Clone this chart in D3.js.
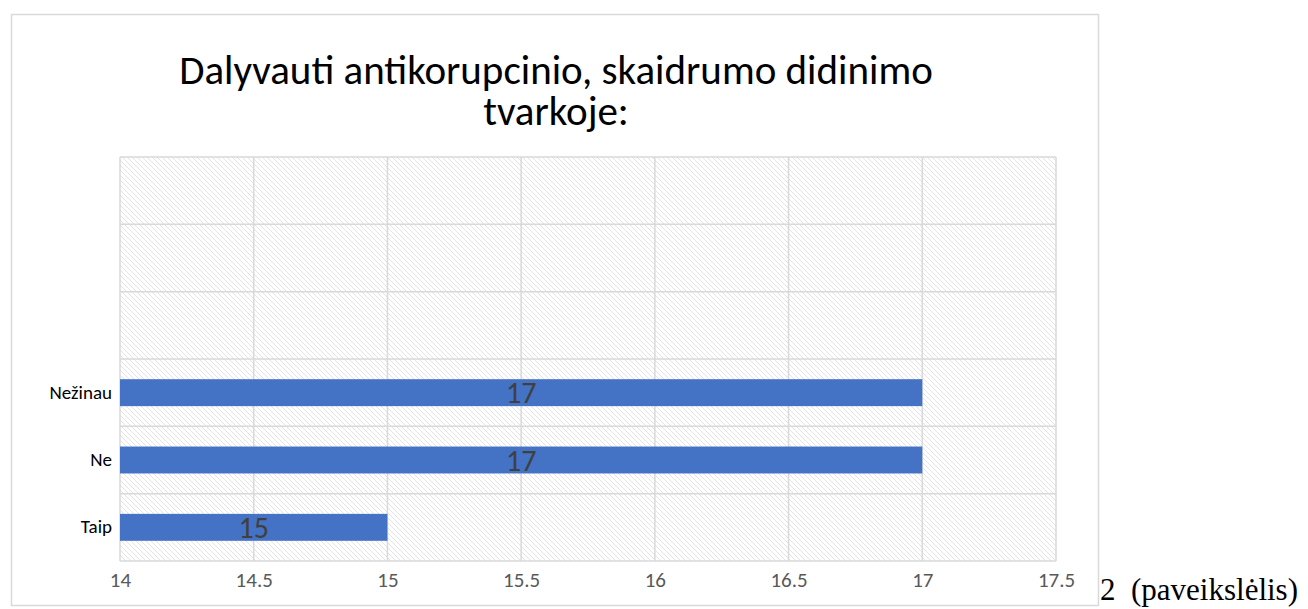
<!DOCTYPE html>
<html>
<head>
<meta charset="utf-8">
<script src="https://cdn.jsdelivr.net/npm/d3@7"></script>
<style>
  body { margin: 0; background: #fff; }
</style>
</head>
<body>
<script>
var W = 1308, H = 609;

// categories from bottom to top; the top three rows are empty in the source
var categories = ["Taip", "Ne", "Nežinau", "", "", ""];
var values = [15, 17, 17, null, null, null];
var xTicks = [14, 14.5, 15, 15.5, 16, 16.5, 17, 17.5];
var titleLines = ["Dalyvauti antikorupcinio, skaidrumo didinimo", "tvarkoje:"];
var caption = "2  (paveikslėlis)";

var rows = categories.map(function(c, i) { return {key: i, name: c, value: values[i]}; });

var m = {left: 120, right: 1056, top: 157, bottom: 561};
var font = "Carlito, Calibri, Lato, sans-serif";

var svg = d3.select("body").append("svg")
  .attr("width", W)
  .attr("height", H);

// hatch pattern of the plot area
var defs = svg.append("defs");
defs.append("pattern")
  .attr("id", "hatch")
  .attr("patternUnits", "userSpaceOnUse")
  .attr("width", 5)
  .attr("height", 5)
  .call(function(p) {
    p.append("rect").attr("width", 5).attr("height", 5).attr("fill", "#fff");
    p.append("path")
      .attr("d", "M-1,-1 L6,6 M-1,4 L1,6 M4,-1 L6,1")
      .attr("stroke", "#dcdcdc")
      .attr("stroke-width", 0.8);
  });

// outer chart border
svg.append("rect")
  .attr("x", 11.5).attr("y", 14.5)
  .attr("width", 1087).attr("height", 591)
  .attr("fill", "#fff")
  .attr("stroke", "#d9d9d9")
  .attr("stroke-width", 1.5);

var x = d3.scaleLinear().domain([14, 17.5]).range([m.left, m.right]);
var y = d3.scaleBand()
  .domain(rows.map(function(d) { return d.key; }).reverse())
  .range([m.top, m.bottom])
  .paddingInner(0.6)
  .paddingOuter(0.3);

// band edges for gridlines
var bandLines = d3.range(categories.length + 1).map(function(i) { return m.top + i * (m.bottom - m.top) / categories.length; });

svg.append("rect")
  .attr("x", m.left).attr("y", m.top)
  .attr("width", m.right - m.left).attr("height", m.bottom - m.top)
  .attr("fill", "url(#hatch)");

var grid = svg.append("g").attr("stroke", "#d9d9d9").attr("stroke-width", 1.5);
grid.selectAll("line.v").data(xTicks).enter().append("line")
  .attr("class", "v")
  .attr("x1", function(d) { return x(d); })
  .attr("x2", function(d) { return x(d); })
  .attr("y1", m.top).attr("y2", m.bottom);
grid.selectAll("line.h").data(bandLines).enter().append("line")
  .attr("class", "h")
  .attr("x1", m.left).attr("x2", m.right)
  .attr("y1", function(d) { return d; })
  .attr("y2", function(d) { return d; });

// bars
svg.selectAll("rect.bar").data(rows.filter(function(d) { return d.value != null; }))
  .enter().append("rect")
  .attr("class", "bar")
  .attr("x", x(14))
  .attr("y", function(d) { return y(d.key); })
  .attr("width", function(d) { return x(d.value) - x(14); })
  .attr("height", y.bandwidth())
  .attr("fill", "#4472c4");

// data labels
svg.selectAll("text.lbl").data(rows.filter(function(d) { return d.value != null; }))
  .enter().append("text")
  .attr("class", "lbl")
  .attr("x", function(d) { return (x(14) + x(d.value)) / 2; })
  .attr("y", function(d) { return y(d.key) + y.bandwidth() / 2; })
  .attr("dy", "0.36em")
  .attr("text-anchor", "middle")
  .attr("font-family", font)
  .attr("font-size", "30px")
  .attr("fill", "#404040")
  .text(function(d) { return d.value; });

// y axis labels
var yAxis = d3.axisLeft(y)
  .tickSize(0)
  .tickPadding(8)
  .tickFormat(function(k) { return categories[k]; });
svg.append("g")
  .attr("transform", "translate(" + m.left + ",0)")
  .call(yAxis)
  .call(function(g) {
    g.select(".domain").remove();
    g.selectAll("text")
      .attr("font-family", font)
      .attr("font-size", "19px")
      .attr("fill", "#000");
  });

// x axis labels
var xAxis = d3.axisBottom(x).tickValues(xTicks).tickSize(0).tickPadding(11)
  .tickFormat(function(d) { return d; });
svg.append("g")
  .attr("transform", "translate(0," + m.bottom + ")")
  .call(xAxis)
  .call(function(g) {
    g.select(".domain").remove();
    g.selectAll("text")
      .attr("font-family", font)
      .attr("font-size", "21px")
      .attr("fill", "#595959");
  });

// title
svg.selectAll("text.title").data(titleLines)
  .enter().append("text")
  .attr("class", "title")
  .attr("x", 556)
  .attr("y", function(d, i) { return 84 + i * 41; })
  .attr("text-anchor", "middle")
  .attr("font-family", font)
  .attr("font-size", "41px")
  .attr("fill", "#000")
  .text(function(d) { return d; });

// caption to the right of the chart
svg.append("text")
  .attr("x", 1100)
  .attr("y", 600)
  .attr("font-family", "'Liberation Serif', serif")
  .attr("font-size", "31px")
  .attr("fill", "#000")
  .style("white-space", "pre")
  .text(caption);
</script>
</body>
</html>
